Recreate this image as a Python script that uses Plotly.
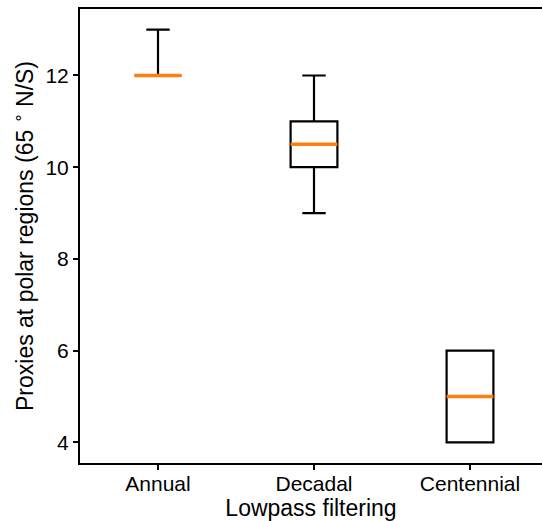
import plotly.graph_objects as go

categories = ["Annual", "Decadal", "Centennial"]
positions = [1, 2, 3]
q1 = [12, 10, 4]
median = [12, 10.5, 5]
q3 = [12, 11, 6]
lower_whisker = [12, 9, 4]
upper_whisker = [13, 12, 6]
y_ticks = [4, 6, 8, 10, 12]

box_width = 0.3
FONT = "Liberation Sans, Arial, sans-serif"

fig = go.Figure()
for i, cat in enumerate(categories):
    fig.add_trace(go.Box(
        x=[positions[i]], q1=[q1[i]], median=[median[i]], q3=[q3[i]],
        lowerfence=[lower_whisker[i]], upperfence=[upper_whisker[i]],
        width=box_width, whiskerwidth=0.5, boxpoints=False,
        line=dict(color="black", width=2.2), fillcolor="rgba(0,0,0,0)",
        showlegend=False, name=cat,
    ))

mx, my = [], []
for p, m in zip(positions, median):
    mx += [p - box_width / 2, p + box_width / 2, None]
    my += [m, m, None]
fig.add_trace(go.Scatter(x=mx, y=my, mode="lines",
                         line=dict(color="#ff7f0e", width=3.6),
                         showlegend=False, hoverinfo="skip"))

fig.update_layout(
    width=542, height=521,
    margin=dict(l=80, r=0, t=9, b=58),
    paper_bgcolor="white", plot_bgcolor="white",
    font=dict(family=FONT, size=21, color="black"),
    xaxis=dict(
        range=[0.5, 3.4615], tickmode="array", tickvals=positions, ticktext=categories,
        showline=True, linecolor="black", linewidth=2, mirror=True,
        ticks="outside", ticklen=5, tickwidth=2, tickcolor="black",
        showgrid=False, zeroline=False, ticklabelstandoff=-4,
        tickfont=dict(size=21, family=FONT),
        title=dict(text="Lowpass filtering", font=dict(size=23, family=FONT), standoff=9),
    ),
    yaxis=dict(
        range=[3.55, 13.45], tickmode="array", tickvals=y_ticks,
        ticktext=[str(t) for t in y_ticks],
        showline=True, linecolor="black", linewidth=2, mirror=False,
        ticks="outside", ticklen=5, tickwidth=2, tickcolor="black",
        showgrid=False, zeroline=False,
        tickfont=dict(size=21, family=FONT),
        title=dict(text="Proxies at polar regions (65 <sup>∘</sup> N/S)",
                   font=dict(size=23, family=FONT), standoff=5),
    ),
)

fig.write_html("out.html", config={"displayModeBar": False},
               post_script="document.body.style.margin='0';document.body.style.overflow='hidden';")
